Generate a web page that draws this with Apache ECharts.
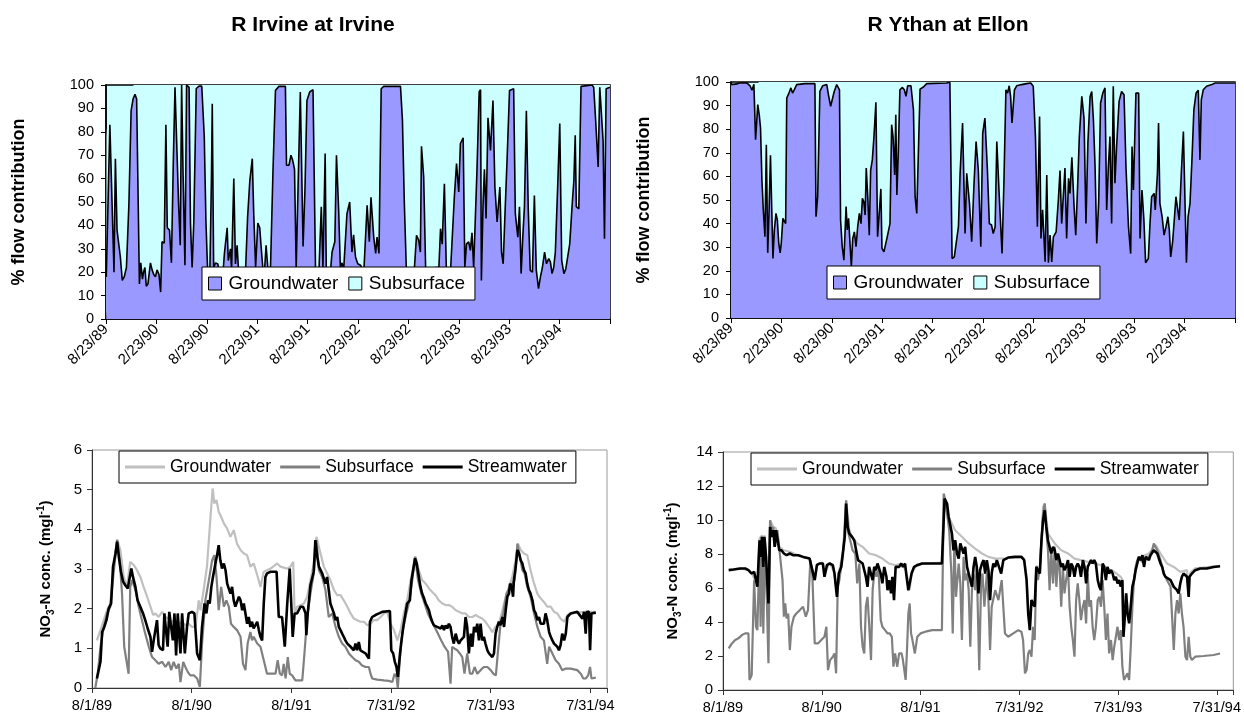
<!DOCTYPE html>
<html>
<head>
<meta charset="utf-8">
<script src="https://cdn.jsdelivr.net/npm/echarts/dist/echarts.min.js"></script>
<style>
  body { margin: 0; background: #fff; }
  #page { position: relative; width: 1244px; height: 718px; }
  .chart { position: absolute; }
  #irvineFlow { left: 0; top: 0; width: 622px; height: 400px; }
  #ythanFlow { left: 622px; top: 0; width: 622px; height: 400px; }
  #irvineConc { left: 0; top: 400px; width: 622px; height: 318px; }
  #ythanConc { left: 622px; top: 400px; width: 622px; height: 318px; }
</style>
</head>
<body>
<div id="page">
  <div id="irvineFlow" class="chart"></div>
  <div id="ythanFlow" class="chart"></div>
  <div id="irvineConc" class="chart"></div>
  <div id="ythanConc" class="chart"></div>
</div>
<script>
// top charts: x = days since 8/23/89, y = % of flow from groundwater
const flowTicks = ['8/23/89', '2/23/90', '8/23/90', '2/23/91', '8/23/91', '2/23/92', '8/23/92', '2/23/93', '8/23/93', '2/23/94', ''];
// bottom charts: x = days since 8/1/89
const concTicks = ['8/1/89', '8/1/90', '8/1/91', '7/31/92', '7/31/93', '7/31/94'];

const irvineGW = [[1,18],[14,83],[29,20],[34,68.5],[40,38],[52,26.5],[59,16.5],[66,18],[74,22],[83,49],[91,89],[98,94],[105,96],[111,94],[115,63],[121,15],[126,24],[132,17],[136,20],[141,22],[146,14],[152,15],[161,24],[167,21],[173,19],[179,18],[185,21],[192,19],[198,11.5],[203,33],[211,32.5],[217,83],[222,39],[230,38],[237,24],[244,68],[250,99],[257,98.5],[263,49],[269,31.5],[274,100],[279,63.5],[286,23],[292,100],[301,99],[306,41],[312,22],[318,41],[327,98.5],[337,99.5],[347,99.5],[356,78],[362,42],[368,21],[376,18],[382,60],[385,92],[390,22],[397,24],[405,23.5],[414,18],[424,20],[429,28],[434,28],[439,39],[443,25],[451,30],[455,21],[463,60],[469,23.5],[475,31.5],[480,21],[493,18],[506,22],[513,43.5],[521,59],[530,68.5],[535,46],[542,22],[550,41],[557,39],[562,31],[568,22],[574,20],[580,31.5],[586,22],[596,22],[605,63.5],[614,97.7],[626,99.4],[650,99.4],[654,65.7],[663,65.7],[670,70],[676,68],[683,64],[689,22],[696,22],[704,97],[709,97.7],[714,31],[721,56],[728,93.4],[738,97],[750,98],[754,97.7],[759,22],[771,19],[780,48],[786,22],[794,70.7],[798,22],[813,20],[819,28.6],[829,33],[835,70],[843,46.4],[849,22],[855,24],[861,21],[873,45],[883,50],[891,28.6],[897,36],[904,26.5],[912,23.6],[922,23],[934,20],[946,48.6],[954,33],[960,52],[970,35],[977,28],[982,35],[989,28],[997,98.4],[1006,99.4],[1067,99.4],[1074,85],[1081,49],[1088,22],[1103,20],[1117,21],[1125,35.8],[1133,33.6],[1139,28.6],[1143,73.8],[1151,60.7],[1158,22],[1175,19],[1193,22],[1206,22],[1212,38.6],[1218,32],[1226,57.8],[1233,22],[1248,20],[1262,52],[1270,66.4],[1278,54.3],[1284,75],[1294,77.4],[1300,22],[1306,32],[1314,33],[1320,29.3],[1326,36.8],[1332,22],[1338,22],[1344,63.5],[1352,97],[1357,98],[1360,16.5],[1366,49],[1371,64],[1377,43],[1384,86],[1393,72],[1402,93.4],[1409,56.4],[1417,41.5],[1427,56.4],[1433,28.6],[1439,23.6],[1446,46.4],[1453,67.8],[1462,97.7],[1477,98.4],[1483,45],[1492,35],[1498,48],[1504,19.4],[1510,35],[1516,48],[1523,89],[1530,46.4],[1537,20.8],[1545,20],[1552,52.8],[1559,20.8],[1567,13],[1574,18],[1581,22],[1589,28.6],[1596,23.6],[1604,25.8],[1610,24.4],[1616,19.4],[1622,22],[1628,28.6],[1637,58.5],[1644,83.5],[1651,25],[1659,19.4],[1666,21.5],[1673,21.5],[1680,32],[1689,49],[1695,59],[1700,78.5],[1704,48],[1713,47],[1721,99.4],[1761,100],[1767,99],[1774,85],[1783,65],[1789,99],[1796,99],[1801,76],[1806,34.3],[1812,98.4],[1826,99]];

const ythanGW = [[0,99],[8,99],[21,99.2],[30,99.6],[57,99.6],[69,98.4],[76,96.5],[83,99],[89,75.5],[97,90.4],[103,85.4],[107,80.5],[112,58.5],[117,45.8],[123,34.4],[128,73.4],[133,27.6],[138,45.8],[143,69],[147,69],[152,25.2],[157,37.3],[163,44.3],[168,41.5],[173,31.6],[178,27.6],[182,31.6],[188,42.2],[193,41.5],[198,40],[202,93.2],[210,95.3],[217,97.5],[223,95.3],[229,96.7],[238,98.9],[268,99.3],[304,99.3],[308,42.9],[314,51.4],[322,96],[332,98.4],[347,98.9],[353,94.6],[361,89.7],[367,89.7],[374,96],[383,98.9],[393,96.7],[397,41.5],[403,30.2],[409,24.5],[417,47.2],[421,37.3],[426,42.2],[431,42.2],[436,21.7],[441,33.7],[447,36.5],[453,30.2],[459,38.7],[465,44.3],[471,40],[476,50.7],[481,49.3],[486,43.6],[490,63.5],[496,50],[501,35.1],[506,62.7],[512,67],[518,76.9],[525,91.4],[531,34.4],[537,44.3],[543,54.7],[547,29.5],[554,28],[560,28],[566,34.4],[576,40],[582,81.9],[587,76.9],[593,60.6],[597,86.1],[601,52.1],[606,69.8],[612,96.7],[621,97.7],[628,96.7],[634,93.9],[640,98.4],[652,98.4],[661,88.2],[667,51.4],[673,44.3],[676,44],[685,97],[697,97.9],[709,99.3],[781,99.6],[793,99.9],[801,25.2],[809,25.9],[815,26.2],[824,38.7],[830,61.3],[839,82.6],[848,35.8],[854,61.3],[864,48.6],[872,32.3],[880,55.7],[888,74.8],[896,62.7],[905,30.2],[912,78.3],[920,84.7],[929,62.7],[936,40],[944,39.4],[950,35.8],[957,38.7],[963,74.8],[972,51.4],[982,27.3],[989,58.5],[996,96.7],[1002,95.3],[1008,98.4],[1013,93.9],[1018,82.6],[1027,96.7],[1035,98.4],[1053,98.9],[1071,99.3],[1086,99.6],[1095,98.2],[1103,76.9],[1110,38.7],[1115,38.7],[1118,85.4],[1123,33.7],[1129,45.8],[1133,46.5],[1138,23.8],[1144,60.6],[1150,23.4],[1156,35.1],[1162,23.8],[1168,34.4],[1178,36.5],[1186,50],[1192,62.5],[1198,40],[1204,39.4],[1210,63.5],[1216,33.7],[1223,59.2],[1228,52.8],[1235,68.1],[1243,47.2],[1249,35.1],[1256,56.4],[1262,76.9],[1271,93.9],[1279,84.7],[1286,40],[1293,74.1],[1301,93.9],[1307,96],[1313,84],[1319,64.2],[1325,31.6],[1332,48.6],[1339,91.1],[1347,95.3],[1355,97.5],[1361,45.8],[1367,63.5],[1373,76.9],[1379,40],[1385,98.2],[1391,57.1],[1397,72.7],[1406,91.8],[1415,96],[1424,94.6],[1431,64.2],[1440,38.7],[1448,27.3],[1453,72.7],[1458,54.2],[1467,95.3],[1477,95.3],[1482,33.7],[1489,54.2],[1496,41.5],[1502,23.4],[1512,25.2],[1518,40],[1524,51.4],[1533,52.8],[1537,45.8],[1545,61.3],[1549,82.6],[1554,48.6],[1562,42.9],[1569,35.1],[1576,38.7],[1583,42.9],[1588,37.3],[1593,25.9],[1600,32.3],[1606,41.5],[1612,51.4],[1617,47.2],[1624,41.5],[1632,62.7],[1639,79],[1645,79],[1650,23.4],[1656,42.9],[1663,48.6],[1670,67],[1677,88.2],[1685,95.3],[1693,96.5],[1699,67],[1704,92.5],[1711,96.7],[1723,98.2],[1742,98.9],[1754,99.6],[1826,99.6]];

// NO3-N concentrations, mg/l
const irvineGround = [[18,1.2],[31,1.46],[43,1.71],[55,1.96],[67,2.13],[79,3.06],[92,3.75],[104,3.48],[116,2.8],[128,2.55],[140,3.18],[153,3.1],[165,2.97],[177,2.8],[189,2.55],[202,2.3],[214,2.05],[224,1.84],[232,1.88],[244,1.79],[257,1.92],[269,1.79],[281,1.75],[293,1.67],[305,1.71],[318,1.62],[330,1.67],[342,1.58],[354,1.62],[366,1.54],[379,1.54],[391,2.21],[397,1.96],[409,2.47],[421,3.06],[428,3.73],[434,4.32],[442,5.03],[448,4.65],[456,4.74],[464,4.44],[470,4.36],[483,4.15],[495,4.02],[507,3.81],[519,3.98],[531,3.64],[544,3.48],[556,3.39],[568,3.35],[580,3.06],[592,3.14],[605,2.85],[617,2.55],[629,2.93],[654,3.01],[678,3.14],[690,3.06],[715,3.01],[727,3.06],[737,3.18],[742,1.88],[751,2.05],[764,2.09],[776,2.13],[788,2.3],[800,2.72],[812,3.14],[822,3.81],[837,3.39],[849,3.06],[861,2.89],[873,2.72],[886,2.47],[898,2.34],[910,2.34],[922,2.21],[935,2.05],[947,1.88],[959,1.75],[971,1.71],[983,1.67],[996,1.67],[1008,1.58],[1020,1.62],[1032,1.71],[1044,1.71],[1057,1.79],[1069,1.88],[1081,1.92],[1093,1.62],[1106,1.46],[1118,1.2],[1130,1.46],[1142,1.88],[1154,2.21],[1167,2.72],[1179,3.14],[1185,3.31],[1197,2.97],[1209,2.72],[1222,2.63],[1234,2.51],[1246,2.42],[1258,2.34],[1270,2.21],[1283,2.13],[1295,2.09],[1307,2.09],[1319,2.05],[1332,1.96],[1344,1.92],[1356,1.88],[1368,1.88],[1380,1.79],[1393,1.79],[1405,1.84],[1417,1.79],[1429,1.75],[1441,1.67],[1454,1.54],[1466,1.41],[1478,1.54],[1490,1.62],[1503,1.96],[1515,2.3],[1527,2.55],[1539,2.8],[1551,3.22],[1560,3.64],[1570,3.48],[1582,3.39],[1594,3.35],[1606,2.97],[1619,2.63],[1631,2.38],[1643,2.26],[1655,2.17],[1667,2.05],[1680,2.05],[1692,1.92],[1704,1.88],[1716,1.75],[1729,1.67],[1741,1.84],[1753,1.88],[1777,1.9],[1802,1.92],[1845,1.92]];

const irvineSub = [[12,0],[21,0.36],[31,1.04],[43,1.54],[55,1.88],[67,2.05],[79,2.89],[92,3.73],[101,3.27],[110,2.38],[118,1.04],[126,0.7],[134,0.36],[140,2.55],[147,2.72],[159,2.47],[171,2.05],[183,1.71],[195,1.37],[208,1.04],[220,0.78],[232,0.7],[244,0.61],[257,0.66],[269,0.53],[281,0.66],[290,0.45],[299,0.66],[309,0.49],[318,0.61],[324,0.15],[334,0.66],[342,0.53],[351,0.4],[360,0.32],[373,0.32],[385,0.24],[395,0.03],[403,1.12],[415,2.21],[428,2.72],[440,3.22],[448,3.35],[456,2.8],[464,1.96],[473,2.55],[483,2.05],[492,2.21],[501,2.05],[509,1.62],[519,1.54],[531,1.46],[544,1.29],[553,0.61],[562,0.45],[570,1.12],[580,1.41],[586,1.2],[592,1.29],[605,1.12],[617,1.04],[629,0.7],[641,0.36],[672,0.36],[680,0.7],[688,0.36],[696,0.32],[702,0.61],[709,0.24],[717,0.78],[724,0.36],[733,0.32],[745,0.19],[770,0.19],[778,0.87],[788,1.79],[800,2.38],[812,2.89],[822,3.73],[831,2.97],[843,2.8],[855,2.47],[867,1.79],[880,1.88],[892,1.54],[904,1.29],[916,1.12],[928,1.04],[941,0.87],[953,0.78],[965,0.7],[977,0.66],[989,0.57],[1002,0.53],[1014,0.53],[1020,0.36],[1026,0.24],[1044,0.21],[1069,0.19],[1087,0.18],[1100,0.15],[1108,0.36],[1115,0.28],[1120,0],[1128,0.78],[1136,1.37],[1148,1.79],[1160,2.13],[1173,2.72],[1183,3.31],[1194,2.72],[1206,2.38],[1218,2.13],[1230,1.88],[1242,1.71],[1255,1.54],[1267,1.37],[1279,1.2],[1291,1.04],[1304,0.91],[1313,0.11],[1319,1.04],[1328,0.99],[1338,0.95],[1347,0.87],[1356,0.78],[1364,0.36],[1374,0.87],[1384,0.36],[1393,0.36],[1401,0.53],[1411,0.36],[1423,0.45],[1435,0.53],[1448,0.53],[1460,0.45],[1470,0.36],[1479,0.32],[1487,0.95],[1496,1.62],[1506,1.88],[1518,2.38],[1531,2.55],[1539,2.63],[1548,2.72],[1558,3.64],[1567,3.31],[1576,2.97],[1584,2.89],[1594,2.55],[1606,2.3],[1619,1.88],[1631,1.54],[1643,1.29],[1655,1.2],[1667,0.61],[1674,1.04],[1686,0.87],[1698,0.7],[1710,0.61],[1722,0.45],[1735,0.49],[1753,0.49],[1777,0.45],[1790,0.36],[1799,0.24],[1808,0.24],[1817,0.32],[1824,0.53],[1829,0.24],[1845,0.26]];

const irvineStream = [[18,0.24],[31,0.66],[37,1.41],[45,1.54],[53,1.71],[61,2.0],[70,2.13],[77,3.06],[86,3.39],[92,3.69],[99,3.27],[106,2.93],[114,2.68],[122,2.59],[131,2.51],[138,2.51],[144,3.01],[150,2.8],[159,2.55],[167,2.21],[177,2.05],[187,1.88],[195,1.71],[204,1.5],[214,1.29],[220,0.91],[226,1.2],[232,1.16],[238,1.71],[244,1.08],[250,1.0],[260,0.95],[265,1.88],[271,1.92],[277,1.04],[283,1.92],[290,1.92],[296,1.2],[302,1.88],[308,0.82],[314,1.88],[320,1.88],[324,0.87],[330,1.88],[336,1.88],[340,0.87],[348,1.54],[354,1.88],[366,1.92],[375,1.88],[385,0.87],[395,0.7],[403,1.54],[412,2.13],[419,1.88],[425,2.21],[431,2.13],[437,2.55],[443,2.8],[452,3.14],[458,3.35],[464,3.6],[470,3.22],[476,3.01],[483,3.14],[489,2.97],[495,2.63],[501,2.68],[507,2.38],[513,2.55],[519,2.21],[525,2.05],[531,2.05],[538,2.3],[544,2.21],[550,1.96],[556,2.13],[562,2.13],[568,1.62],[574,1.79],[580,1.54],[586,1.67],[592,1.5],[599,1.5],[605,1.67],[611,1.46],[617,1.29],[623,1.2],[629,2.13],[635,2.8],[641,2.89],[654,2.93],[676,2.93],[684,1.79],[696,1.79],[706,1.04],[715,2.13],[724,3.01],[731,3.01],[735,1.29],[742,1.88],[751,1.88],[764,2.05],[773,2.05],[782,1.88],[785,1.33],[790,1.88],[800,2.59],[812,2.93],[818,3.73],[825,3.31],[831,3.06],[837,3.06],[843,2.89],[849,2.89],[855,2.63],[861,2.8],[867,2.47],[873,2.13],[880,2.17],[886,1.88],[892,1.71],[898,1.79],[904,1.54],[910,1.46],[916,1.37],[922,1.29],[928,1.2],[935,1.12],[947,1.04],[959,0.95],[965,1.12],[971,0.95],[977,1.16],[983,0.95],[989,0.91],[1002,0.87],[1008,0.82],[1014,0.74],[1018,1.67],[1026,1.79],[1038,1.84],[1051,1.88],[1063,1.92],[1091,1.94],[1096,0.95],[1103,0.87],[1109,0.66],[1115,0.53],[1120,0.28],[1128,0.87],[1132,1.12],[1140,1.54],[1148,1.88],[1154,2.13],[1164,2.21],[1170,2.72],[1176,2.97],[1183,3.27],[1189,3.14],[1195,2.89],[1203,2.55],[1209,2.38],[1216,2.26],[1222,2.13],[1228,2.05],[1234,1.96],[1240,1.79],[1246,1.67],[1252,1.58],[1258,1.62],[1264,1.54],[1270,1.58],[1277,1.5],[1283,1.58],[1289,1.46],[1295,1.58],[1301,1.5],[1307,1.62],[1313,1.54],[1319,1.29],[1325,1.12],[1332,1.37],[1338,1.2],[1344,1.12],[1350,1.2],[1362,1.29],[1368,1.79],[1374,1.54],[1380,0.87],[1387,1.37],[1393,1.04],[1399,1.54],[1405,1.41],[1411,1.62],[1417,1.2],[1423,1.62],[1429,1.2],[1435,1.29],[1441,1.12],[1448,0.95],[1454,0.87],[1460,0.82],[1466,0.78],[1472,0.87],[1478,1.37],[1484,1.54],[1490,1.67],[1496,1.58],[1503,1.79],[1509,1.54],[1515,1.96],[1521,2.3],[1527,2.38],[1531,2.63],[1537,2.55],[1542,2.3],[1545,2.72],[1551,3.01],[1558,3.48],[1564,3.39],[1570,3.22],[1576,3.14],[1582,2.97],[1588,2.89],[1594,2.63],[1600,2.47],[1606,2.38],[1613,2.21],[1619,1.96],[1625,1.88],[1631,1.71],[1637,1.79],[1643,1.62],[1649,1.67],[1655,1.62],[1661,1.88],[1667,1.71],[1674,1.41],[1680,1.29],[1686,1.2],[1692,1.12],[1698,1.08],[1704,1.04],[1710,0.95],[1716,1.08],[1722,1.37],[1729,1.2],[1735,1.37],[1741,1.79],[1753,1.88],[1777,1.92],[1796,1.75],[1802,1.92],[1808,1.37],[1812,1.92],[1820,1.92],[1824,0.95],[1829,1.88],[1845,1.9]];

const ythanGround = [[21,7.05],[64,7.15],[94,7.05],[106,6.85],[127,6.2],[135,8.9],[144,9.1],[149,7.4],[153,9.1],[159,8.0],[168,5.3],[174,9.99],[186,9.6],[196,9.5],[208,8.42],[225,8.22],[247,8.13],[278,7.93],[320,7.73],[330,7.1],[339,6.5],[347,7.4],[369,7.5],[375,6.8],[394,7.5],[412,6.9],[421,5.6],[428,6.9],[443,8.1],[455,11.16],[467,9.4],[477,9.01],[496,8.62],[516,8.42],[540,8.03],[565,7.93],[589,7.73],[614,7.44],[638,7.34],[659,7.44],[677,7.0],[690,5.9],[697,6.9],[718,7.4],[809,7.5],[816,11.55],[834,10.18],[858,9.4],[883,9.01],[908,8.62],[932,8.32],[957,8.03],[981,7.83],[1006,7.73],[1042,7.75],[1103,7.83],[1113,7.7],[1122,6.6],[1128,4.6],[1134,3.6],[1140,5.3],[1152,5.0],[1158,7.3],[1171,7.0],[1183,10.77],[1189,10.97],[1201,9.2],[1226,8.62],[1250,8.22],[1275,8.03],[1299,7.73],[1323,7.64],[1348,7.54],[1372,7.44],[1397,7.34],[1421,7.15],[1446,6.95],[1470,6.66],[1476,6.5],[1480,3.2],[1490,5.7],[1501,4.0],[1513,6.1],[1531,7.5],[1544,7.83],[1574,8.03],[1599,8.52],[1617,8.03],[1641,7.44],[1666,7.24],[1690,6.95],[1715,7.05],[1721,5.6],[1727,6.9],[1745,7.15],[1837,7.3]];

const ythanSub = [[21,2.45],[33,2.74],[45,2.94],[57,3.04],[70,3.23],[82,3.33],[94,3.33],[98,0.59],[106,0.88],[115,6.46],[122,3.72],[127,3.52],[135,8.42],[139,3.72],[144,9.01],[149,3.33],[155,8.81],[161,5.87],[168,1.57],[174,9.99],[180,9.4],[186,9.59],[192,8.42],[201,9.4],[210,8.03],[220,6.46],[225,4.31],[230,5.09],[235,4.21],[241,4.5],[247,2.35],[253,3.72],[262,4.31],[271,4.5],[284,4.7],[296,4.9],[306,4.31],[314,4.7],[323,7.64],[330,6.85],[339,2.74],[351,2.74],[363,2.94],[375,3.13],[382,3.72],[388,1.17],[396,1.76],[406,1.96],[412,2.15],[418,0.98],[424,6.07],[430,6.46],[440,7.64],[448,8.81],[455,11.16],[461,9.4],[470,8.81],[479,8.22],[489,8.03],[496,6.27],[504,7.44],[510,3.72],[516,2.55],[522,2.15],[528,4.9],[534,5.48],[540,3.92],[547,1.76],[553,5.87],[561,7.24],[567,6.66],[575,7.05],[583,4.11],[589,3.72],[599,3.52],[608,3.33],[616,3.33],[624,3.13],[630,1.37],[636,2.15],[644,1.37],[651,2.15],[660,2.15],[665,1.76],[675,0.59],[680,2.35],[685,4.5],[690,5.09],[695,3.33],[699,3.04],[709,2.15],[718,3.13],[730,3.33],[748,3.43],[773,3.52],[809,3.52],[816,11.55],[828,10.38],[836,9.4],[844,6.85],[849,3.33],[855,8.81],[861,5.48],[871,7.44],[877,6.27],[883,2.94],[889,7.83],[895,6.46],[902,6.85],[908,5.87],[914,2.55],[920,5.87],[926,6.85],[932,5.87],[938,7.24],[947,1.17],[954,6.46],[959,6.85],[966,4.9],[975,6.85],[981,5.29],[987,2.35],[993,4.9],[1006,5.87],[1018,5.29],[1030,6.46],[1042,3.33],[1054,3.13],[1073,3.33],[1091,3.52],[1103,3.43],[1109,2.94],[1116,0.98],[1122,1.17],[1128,2.15],[1134,2.35],[1140,1.96],[1146,3.72],[1152,2.94],[1158,7.05],[1164,6.46],[1171,7.24],[1183,10.38],[1189,10.97],[1195,9.4],[1201,8.22],[1207,5.87],[1213,8.22],[1220,6.27],[1226,8.42],[1232,6.07],[1238,7.64],[1244,7.24],[1250,4.9],[1256,7.24],[1262,5.68],[1268,6.46],[1275,7.24],[1281,4.9],[1287,3.72],[1293,2.94],[1299,1.96],[1305,5.29],[1311,6.27],[1317,5.29],[1323,4.11],[1330,4.9],[1336,5.29],[1342,3.92],[1348,6.85],[1354,4.9],[1360,5.29],[1366,3.72],[1372,2.94],[1378,3.72],[1385,5.29],[1391,5.48],[1397,4.9],[1403,6.46],[1409,4.9],[1415,2.94],[1421,4.5],[1427,2.15],[1434,2.94],[1440,1.76],[1446,2.55],[1452,3.13],[1458,3.72],[1464,2.94],[1470,3.52],[1476,1.37],[1482,0.59],[1488,0.59],[1495,0.98],[1501,0.59],[1507,2.55],[1513,4.9],[1519,6.46],[1525,7.24],[1531,7.64],[1537,7.83],[1544,7.64],[1556,7.44],[1562,7.83],[1574,7.83],[1586,8.22],[1592,8.62],[1605,8.22],[1617,7.64],[1629,6.85],[1641,6.46],[1654,6.07],[1666,2.35],[1672,4.5],[1678,5.29],[1684,4.5],[1690,5.68],[1696,4.5],[1702,3.72],[1709,1.96],[1715,1.76],[1721,3.13],[1727,1.96],[1733,1.76],[1745,1.96],[1776,2.0],[1813,2.06],[1837,2.15]];

const ythanStream = [[21,7.05],[39,7.09],[64,7.15],[82,7.15],[94,7.05],[106,6.85],[115,6.95],[122,6.46],[127,6.07],[135,8.81],[139,7.83],[144,9.01],[149,7.24],[153,9.01],[159,7.83],[168,5.09],[174,9.59],[180,9.01],[186,9.4],[191,8.42],[196,9.4],[203,9.4],[208,8.22],[216,8.22],[225,8.03],[235,7.93],[247,8.03],[259,7.93],[278,7.93],[296,7.83],[320,7.73],[330,7.05],[339,6.46],[347,7.34],[357,7.44],[369,7.44],[375,6.66],[384,7.34],[394,7.44],[406,7.34],[412,6.85],[421,5.48],[428,6.85],[437,7.24],[443,8.03],[450,9.01],[455,10.97],[461,9.59],[467,9.2],[477,9.01],[485,8.81],[492,8.22],[499,7.64],[506,7.64],[516,7.44],[522,7.44],[528,6.66],[534,6.07],[540,7.24],[547,7.34],[553,6.46],[559,7.24],[565,7.05],[571,7.44],[577,7.34],[583,6.85],[589,6.27],[596,7.24],[604,6.66],[608,5.87],[614,6.46],[621,5.68],[626,6.66],[632,5.29],[638,7.24],[651,7.24],[659,7.44],[665,7.24],[673,7.44],[677,6.85],[685,5.87],[690,5.78],[697,6.85],[706,7.24],[718,7.34],[736,7.44],[809,7.44],[819,11.26],[828,10.97],[834,10.18],[846,9.2],[852,8.22],[858,8.81],[865,8.03],[871,7.73],[877,8.62],[889,8.03],[895,8.42],[902,7.24],[908,6.85],[914,6.46],[920,6.07],[926,7.24],[932,7.83],[938,7.24],[944,5.68],[950,7.05],[957,7.44],[963,7.64],[969,6.85],[975,7.64],[981,7.05],[987,5.29],[993,6.85],[999,7.44],[1006,7.24],[1012,7.64],[1018,7.64],[1028,6.85],[1036,7.64],[1042,7.73],[1054,7.79],[1079,7.83],[1103,7.83],[1113,7.64],[1122,6.46],[1128,4.5],[1134,3.52],[1140,5.29],[1146,5.09],[1152,4.9],[1158,7.24],[1164,7.05],[1171,6.85],[1177,8.81],[1183,9.99],[1189,10.57],[1195,9.59],[1201,8.81],[1207,8.42],[1213,8.03],[1220,8.42],[1226,8.22],[1232,7.64],[1238,8.03],[1244,7.64],[1250,7.24],[1256,7.44],[1262,7.05],[1268,7.24],[1275,7.64],[1281,6.66],[1287,7.44],[1293,7.24],[1299,6.66],[1305,7.24],[1311,7.44],[1317,7.24],[1323,6.66],[1330,7.64],[1336,7.24],[1342,6.27],[1348,7.24],[1354,7.44],[1360,7.64],[1366,7.44],[1372,7.64],[1378,7.44],[1385,6.46],[1391,6.07],[1397,5.87],[1403,7.44],[1409,7.24],[1415,6.46],[1421,7.24],[1427,6.85],[1434,7.05],[1440,6.85],[1446,6.46],[1452,6.66],[1458,6.27],[1464,6.46],[1470,6.07],[1476,6.46],[1480,3.13],[1485,4.31],[1490,5.68],[1495,4.5],[1501,3.92],[1507,4.9],[1513,6.07],[1519,6.46],[1525,7.05],[1531,7.44],[1537,7.83],[1544,7.64],[1550,7.93],[1556,7.24],[1562,7.83],[1568,7.93],[1574,7.64],[1580,7.93],[1586,8.03],[1592,8.22],[1599,8.32],[1605,8.03],[1611,7.93],[1617,7.44],[1623,7.24],[1629,6.85],[1635,6.66],[1641,6.56],[1654,6.46],[1666,6.07],[1678,5.87],[1684,5.68],[1690,6.27],[1696,6.66],[1702,6.85],[1709,6.85],[1715,6.66],[1721,5.48],[1724,6.66],[1733,6.85],[1745,7.05],[1764,7.15],[1788,7.15],[1813,7.24],[1837,7.28]];

const FONT = 'Arial, "Liberation Sans", sans-serif';

function flowOption(title, titleX, gw, grid, legendPos) {
  let sub = gw.map(function (p) { return [p[0], 100 - p[1]]; });
  return {
    animation: false,
    title: {
      text: title, left: titleX, top: 25, padding: 0,
      textAlign: 'center', textVerticalAlign: 'middle',
      textStyle: { fontFamily: FONT, fontSize: 21, fontWeight: 'bold', color: '#000' }
    },
    grid: Object.assign({ show: true, borderColor: '#000', borderWidth: 1.5, backgroundColor: '#CCFFFF' }, grid),
    legend: {
      left: legendPos[0], top: legendPos[1],
      orient: 'horizontal', icon: 'rect',
      itemWidth: 13, itemHeight: 13, itemGap: 10,
      padding: [7, 10, 7, 6],
      backgroundColor: '#fff', borderColor: '#000', borderWidth: 1,
      selectedMode: false,
      itemStyle: { borderColor: '#000', borderWidth: 1 },
      textStyle: { fontFamily: FONT, fontSize: 19, color: '#000', padding: [0, 0, 0, 2] },
      data: ['Groundwater', 'Subsurface']
    },
    xAxis: {
      type: 'value', min: 0, max: 1826, interval: 182.6,
      axisLine: { lineStyle: { color: '#000', width: 1.5 } },
      axisTick: { show: true, length: 5, lineStyle: { color: '#000' } },
      splitLine: { show: false },
      axisLabel: {
        rotate: 45, margin: 8, fontFamily: FONT, fontSize: 15, color: '#000',
        formatter: function (v) {
          let i = Math.round(v / 182.6);
          return Math.abs(v - i * 182.6) < 1 ? (flowTicks[i] || '') : '';
        }
      }
    },
    yAxis: {
      type: 'value', min: 0, max: 100, interval: 10,
      name: '% flow contribution', nameLocation: 'middle', nameGap: 78,
      nameTextStyle: { fontFamily: FONT, fontSize: 18, fontWeight: 'bold', color: '#000' },
      axisLine: { show: true, lineStyle: { color: '#000', width: 1.5 } },
      axisTick: { show: true, length: 5, lineStyle: { color: '#000' } },
      splitLine: { show: false },
      axisLabel: { margin: 12, fontFamily: FONT, fontSize: 14.5, color: '#000' }
    },
    series: [
      {
        name: 'Groundwater', type: 'line', stack: 'flow', data: gw,
        symbol: 'none', z: 3, color: '#9999FF',
        lineStyle: { color: '#000', width: 1.6 },
        areaStyle: { color: '#9999FF', opacity: 1 }
      },
      {
        name: 'Subsurface', type: 'line', stack: 'flow', data: sub,
        symbol: 'none', z: 2, color: '#CCFFFF',
        lineStyle: { width: 0, opacity: 0 },
        areaStyle: { color: '#CCFFFF', opacity: 1 }
      }
    ]
  };
}

function concOption(ymax, yint, ground, sub, stream, grid, legendPos, nameGap) {
  return {
    animation: false,
    grid: Object.assign({ show: true, borderColor: '#999', borderWidth: 1 }, grid),
    legend: {
      left: legendPos[0], top: legendPos[1],
      icon: 'rect', itemWidth: 40, itemHeight: 3, itemGap: 9,
      padding: [7, 9, 7, 6],
      backgroundColor: '#fff', borderColor: '#000', borderWidth: 1,
      selectedMode: false,
      textStyle: { fontFamily: FONT, fontSize: 17.5, color: '#000' },
      data: ['Groundwater', 'Subsurface', 'Streamwater']
    },
    xAxis: {
      type: 'value', min: 0, max: 1886, interval: 365,
      axisLine: { lineStyle: { color: '#333', width: 1 } },
      axisTick: { show: true, length: 5, lineStyle: { color: '#333' } },
      splitLine: { show: false },
      axisLabel: {
        margin: 10, fontFamily: FONT, fontSize: 14.5, color: '#000',
        formatter: function (v) { return v % 365 === 0 ? (concTicks[v / 365] || '') : ''; }
      }
    },
    yAxis: {
      type: 'value', min: 0, max: ymax, interval: yint,
      name: '{b|NO}{s|3}{b|-N conc. (mgl}{p|-1}{b|)}',
      nameLocation: 'middle', nameGap: nameGap,
      nameTextStyle: {
        rich: {
          b: { fontFamily: FONT, fontSize: 15, fontWeight: 'bold', color: '#000', lineHeight: 20 },
          s: { fontFamily: FONT, fontSize: 10, fontWeight: 'bold', color: '#000', lineHeight: 10, verticalAlign: 'bottom' },
          p: { fontFamily: FONT, fontSize: 10, fontWeight: 'bold', color: '#000', lineHeight: 10, verticalAlign: 'top' }
        }
      },
      axisLine: { show: true, lineStyle: { color: '#333', width: 1 } },
      axisTick: { show: true, length: 5, lineStyle: { color: '#333' } },
      splitLine: { show: false },
      axisLabel: { margin: 10, fontFamily: FONT, fontSize: 15, color: '#000' }
    },
    series: [
      { name: 'Groundwater', type: 'line', data: ground, symbol: 'none', color: '#C0C0C0', lineStyle: { color: '#C0C0C0', width: 2.2 } },
      { name: 'Subsurface', type: 'line', data: sub, symbol: 'none', color: '#808080', lineStyle: { color: '#808080', width: 2.2 } },
      { name: 'Streamwater', type: 'line', data: stream, symbol: 'none', color: '#000', lineStyle: { color: '#000', width: 2.6 } }
    ]
  };
}

let c1 = echarts.init(document.getElementById('irvineFlow'));
c1.setOption(flowOption('R Irvine at Irvine', 313, irvineGW,
  { left: 106, top: 85, width: 504, height: 234 }, [202, 267]));

let c2 = echarts.init(document.getElementById('ythanFlow'));
c2.setOption(flowOption('R Ythan at Ellon', 326, ythanGW,
  { left: 109, top: 82, width: 504, height: 236 }, [205, 266]));

let c3 = echarts.init(document.getElementById('irvineConc'));
c3.setOption(concOption(6, 1, irvineGround, irvineSub, irvineStream,
  { left: 92, top: 50, width: 515, height: 238 }, [119, 51], 36));

let c4 = echarts.init(document.getElementById('ythanConc'));
c4.setOption(concOption(14, 2, ythanGround, ythanSub, ythanStream,
  { left: 101, top: 52, width: 513, height: 238 }, [129, 53], 40));
</script>
</body>
</html>
